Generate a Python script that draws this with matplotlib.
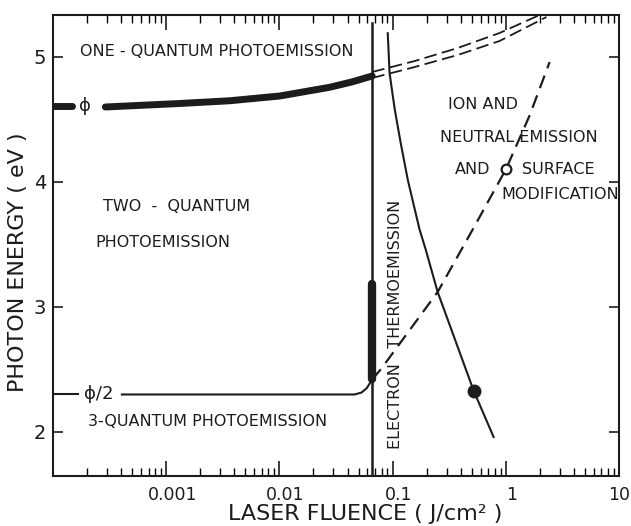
import numpy as np
import matplotlib
matplotlib.use("Agg")
import matplotlib.pyplot as plt
from matplotlib.transforms import ScaledTranslation
from matplotlib.ticker import LogLocator, NullFormatter, FixedLocator, FixedFormatter

plt.rcParams["font.family"] = ["DejaVu Sans"]
INK = "#1c1c1c"

# ── Data (fluence in J/cm^2, photon energy in eV) ───────
# one-quantum threshold (work function phi)
phi_stub_x = [1.0e-4, 1.47e-4]
phi_stub_y = [4.61, 4.61]
phi_x = [2.9e-4, 1.32e-3, 3.65e-3, 0.0101, 0.0279, 0.0435, 0.066]
phi_y = [4.60, 4.628, 4.650, 4.688, 4.758, 4.80, 4.848]

# extrapolated one-quantum threshold (double dashed)
dd_upper_x = [0.066, 0.157, 0.376, 0.881, 1.99]
dd_upper_y = [4.88, 4.968, 5.072, 5.192, 5.336]
dd_lower_x = [0.066, 0.157, 0.376, 0.881, 2.29]
dd_lower_y = [4.832, 4.92, 5.016, 5.128, 5.32]

# two-quantum threshold (phi/2)
half_stub_x = [1.0e-4, 1.66e-4]
half_stub_y = [2.30, 2.30]
half_x = [4.06e-4, 0.046, 0.053, 0.059, 0.066]
half_y = [2.30, 2.30, 2.315, 2.35, 2.42]

# damage threshold fluence
f_damage = 0.066
damage_top = 5.27
thick_seg_y = [2.42, 3.18]

# ion / neutral emission boundary
ion_x = [0.066, 0.08, 0.25, 0.51, 1.0, 1.62, 2.44]
ion_y = [2.42, 2.51, 3.12, 3.62, 4.10, 4.53, 4.96]
ion_mark = (1.0, 4.10)

# electron thermoemission boundary
thermo_x = [0.0906, 0.094, 0.1045, 0.118, 0.136, 0.157, 0.173, 0.196, 0.25, 0.52, 0.78]
thermo_y = [5.19, 4.87, 4.58, 4.31, 4.02, 3.78, 3.62, 3.46, 3.12, 2.33, 1.96]
thermo_mark = (0.52, 2.33)

x_ticks = [1e-3, 1e-2, 1e-1, 1, 10]
x_ticklabels = ["0.001", "0.01", "0.1", "1", "10"]
y_ticks = [2, 3, 4, 5]

# ── Figure ──────────────────────────────────────────────
fig = plt.figure(figsize=(6.31, 5.26), dpi=100)
ax = fig.add_axes([0.084, 0.0951, 0.897, 0.8764])
ax.set_xscale("log")
ax.set_xlim(1e-4, 10)
ax.set_ylim(1.648, 5.336)

# thresholds
ax.plot(phi_stub_x, phi_stub_y, color=INK, lw=5, solid_capstyle="round")
ax.plot(phi_x, phi_y, color=INK, lw=5, solid_capstyle="round")
ax.plot(dd_upper_x, dd_upper_y, color=INK, lw=1.3, dashes=(7, 3))
ax.plot(dd_lower_x, dd_lower_y, color=INK, lw=1.3, dashes=(7, 3))
ax.plot(half_stub_x, half_stub_y, color=INK, lw=1.5)
ax.plot(half_x, half_y, color=INK, lw=1.5)

# damage threshold
ax.plot([f_damage, f_damage], [ax.get_ylim()[0], damage_top], color=INK, lw=1.8)
ax.plot([f_damage, f_damage], thick_seg_y, color=INK, lw=6, solid_capstyle="round")

# ion emission and thermoemission
ax.plot(ion_x, ion_y, color=INK, lw=1.6, dashes=(6, 3.5))
ax.plot(*ion_mark, "o", ms=7, mfc="white", mec=INK, mew=1.6)
ax.plot(thermo_x, thermo_y, color=INK, lw=1.5)
ax.plot(*thermo_mark, "o", ms=9, color=INK)

# ── Region labels ───────────────────────────────────────
tkw = dict(color=INK, fontsize=11.5, va="center")
ax.text(1.73e-4, 5.04, "ONE - QUANTUM PHOTOEMISSION", ha="left", **tkw)
ax.text(2.76e-4, 3.80, "TWO  -  QUANTUM", ha="left", **tkw)
ax.text(2.35e-4, 3.512, "PHOTOEMISSION", ha="left", **tkw)
ax.text(2.04e-4, 2.08, "3-QUANTUM PHOTOEMISSION", ha="left", **tkw)
ax.text(0.1064, 2.864, "ELECTRON   THERMOEMISSION", ha="center", rotation=90, **tkw)
ax.text(0.306, 4.616, "ION AND", ha="left", **tkw)
ax.text(0.2606, 4.352, "NEUTRAL EMISSION", ha="left", **tkw)
ax.text(0.353, 4.096, "AND", ha="left", **tkw)
ax.text(1.377, 4.096, "SURFACE", ha="left", **tkw)
ax.text(0.918, 3.896, "MODIFICATION", ha="left", **tkw)
ax.text(1.9e-4, 4.61, "\u03d5", ha="center", color=INK, fontsize=13, va="center")
ax.text(2.55e-4, 2.30, "\u03d5/2", ha="center", color=INK, fontsize=13, va="center")

# ── Axes styling ────────────────────────────────────────
for s in ax.spines.values():
    s.set_linewidth(1.5)
    s.set_color(INK)

ax.xaxis.set_major_locator(FixedLocator(x_ticks))
ax.xaxis.set_major_formatter(FixedFormatter(x_ticklabels))
ax.xaxis.set_minor_locator(LogLocator(base=10, subs=np.arange(2, 10), numticks=20))
ax.xaxis.set_minor_formatter(NullFormatter())
ax.set_yticks(y_ticks)

ax.tick_params(axis="x", which="major", direction="in", length=11, width=1.2,
               top=True, labelsize=12.5, pad=7, colors=INK)
ax.tick_params(axis="x", which="minor", direction="in", length=5.5, width=1.0, top=True)
ax.tick_params(axis="y", which="major", direction="in", length=7, width=1.2,
               right=True, labelsize=14, pad=5, colors=INK)

# fluence labels sit slightly right of their ticks (except the last, at the edge)
shift = ScaledTranslation(6 / 100, 0, fig.dpi_scale_trans)
for lbl in ax.get_xticklabels()[:-1]:
    lbl.set_transform(lbl.get_transform() + shift)

ax.set_xlabel("LASER FLUENCE ( J/cm\u00b2 )", fontsize=16, color=INK, va="baseline")
ax.set_ylabel("PHOTON ENERGY ( eV )", fontsize=16, color=INK)
ax.xaxis.set_label_coords(0.551, -0.0954)
ax.yaxis.set_label_coords(-0.045, 0.464)

fig.savefig("out.png", dpi=100)
